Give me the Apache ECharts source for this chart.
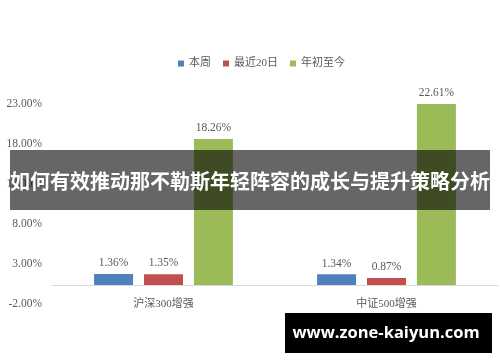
<!DOCTYPE html>
<html>
<head>
<meta charset="utf-8">
<script src="https://cdn.jsdelivr.net/npm/echarts@6/dist/echarts.min.js"></script>
<style>
html,body{margin:0;padding:0;background:#fff;}
#chart{width:500px;height:362px;}
</style>
</head>
<body>
<div id="chart"></div>
<script>
var categories = ['沪深300增强', '中证500增强'];
var seriesNames = ['本周', '最近20日', '年初至今'];
var weekly = [1.36, 1.34];
var last20 = [1.35, 0.87];
var ytd = [18.26, 22.61];
var yTicks = [-2, 3, 8, 13, 18, 23];
var bannerText = '如何有效推动那不勒斯年轻阵容的成长与提升策略分析';
var watermarkText = 'www.zone-kaiyun.com';

var colors = ['#4F81BD', '#C0504D', '#9BBB59'];
var serif = '"Liberation Serif", "Noto Sans CJK SC", serif';
var txt = '#595959';

function mk(name, data, color) {
  return {
    name: name, type: 'bar', data: data,
    barWidth: 39, barGap: '28%',
    itemStyle: { color: color },
    label: {
      show: true, position: 'top', distance: 5,
      formatter: function (p) { return p.value.toFixed(2) + '%'; },
      fontFamily: serif, fontSize: 11.5, color: txt
    }
  };
}

var chart = echarts.init(document.getElementById('chart'));
chart.setOption({
  animation: false,
  backgroundColor: '#fff',
  legend: {
    data: seriesNames,
    left: 173, top: 53,
    itemWidth: 6, itemHeight: 6, itemGap: 12,
    icon: 'rect',
    textStyle: { fontFamily: serif, fontSize: 11, color: txt }
  },
  grid: { left: 52, right: 2, top: 101, height: 200 },
  xAxis: {
    type: 'category', data: categories,
    axisLine: { onZero: true, lineStyle: { color: '#d9d9d9', width: 1 } },
    axisTick: { show: false },
    axisLabel: { margin: -2, fontFamily: serif, fontSize: 11, color: txt }
  },
  yAxis: {
    type: 'value', min: yTicks[0], max: yTicks[yTicks.length - 1],
    axisLine: { show: false }, axisTick: { show: false },
    splitLine: { show: false },
    axisLabel: {
      customValues: yTicks, margin: 10, verticalAlign: 'top', lineHeight: 5,
      formatter: function (v) { return v.toFixed(2) + '%'; },
      fontFamily: serif, fontSize: 11.5, color: txt
    }
  },
  series: [mk(seriesNames[0], weekly, colors[0]), mk(seriesNames[1], last20, colors[1]), mk(seriesNames[2], ytd, colors[2])],
  graphic: [
    { type: 'rect', z: 100, shape: { x: 10, y: 150, width: 480, height: 60 }, style: { fill: 'rgba(0,0,0,0.6)' } },
    { type: 'text', z: 101, x: 250, y: 181, style: { text: bannerText, fill: '#fff', font: 'bold 20px "Noto Sans CJK SC"', align: 'center', verticalAlign: 'middle' } },
    { type: 'rect', z: 100, shape: { x: 285, y: 313, width: 207, height: 40 }, style: { fill: '#000' } },
    { type: 'text', z: 101, x: 386, y: 333, style: { text: watermarkText, fill: '#fff', font: 'bold 16.5px "Open Sans"', align: 'center', verticalAlign: 'middle' } }
  ]
});
</script>
</body>
</html>
